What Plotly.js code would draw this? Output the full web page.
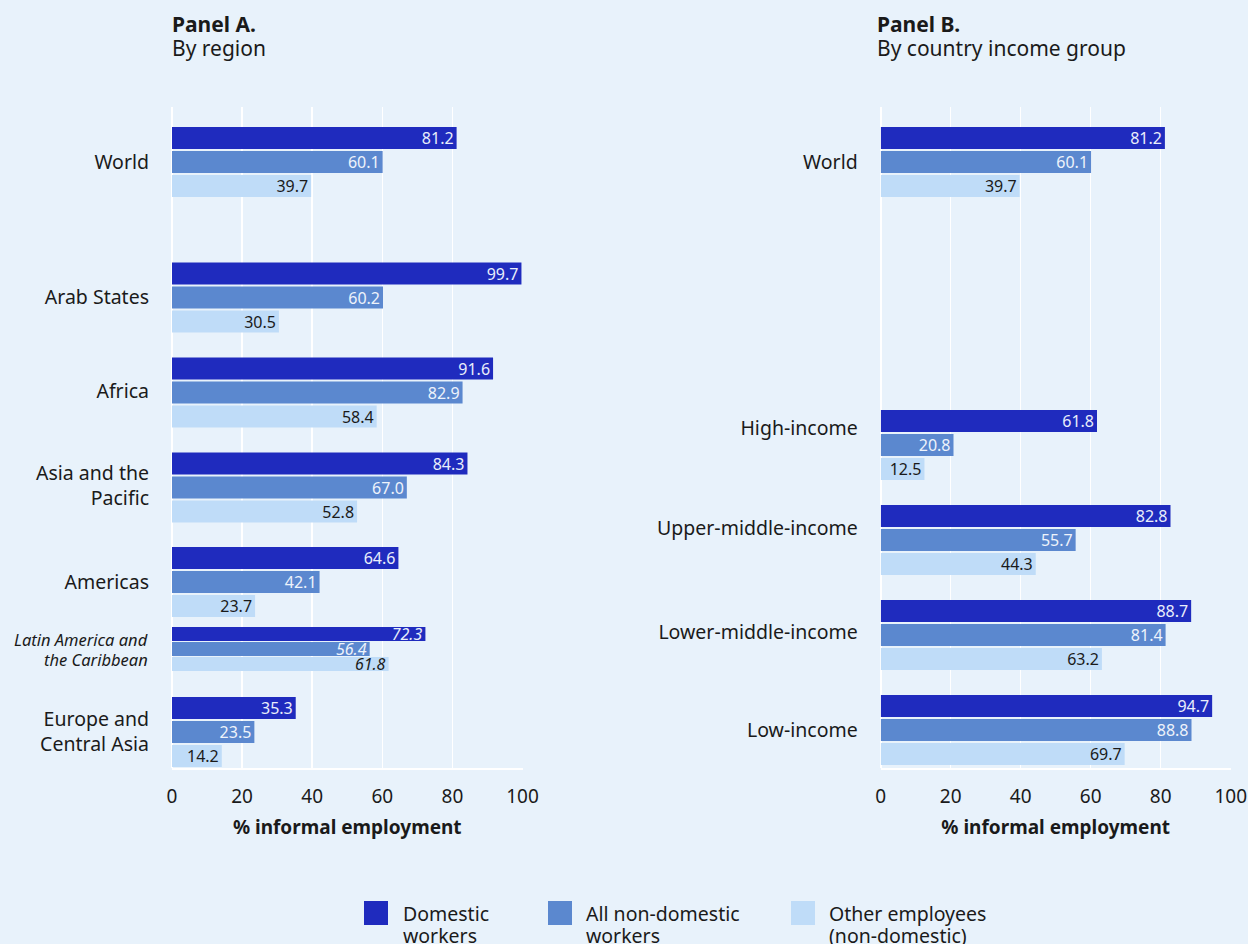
<!DOCTYPE html>
<html>
<head>
<meta charset="utf-8">
<script src="https://cdn.plot.ly/plotly-3.0.1.min.js"></script>
<style>html,body{margin:0;padding:0;background:#e8f2fb;}#chart{width:1248px;height:944px;}</style>
</head>
<body>
<div id="chart"></div>
<script>
// ---------- DATA ----------
const seriesNames = ['Domestic<br>workers', 'All non-domestic<br>workers', 'Other employees<br>(non-domestic)'];

const regionCategories = ['World', 'Arab States', 'Africa', 'Asia and the Pacific', 'Americas', 'Latin America and the Caribbean', 'Europe and Central Asia'];
const regionTickLabels = ['World', 'Arab States', 'Africa', 'Asia and the<br>Pacific', 'Americas', 'Latin America and<br>the Caribbean', 'Europe and<br>Central Asia'];
const regionDomestic = [81.2, 99.7, 91.6, 84.3, 64.6, 72.3, 35.3];
const regionNonDomestic = [60.1, 60.2, 82.9, 67.0, 42.1, 56.4, 23.5];
const regionOtherEmployees = [39.7, 30.5, 58.4, 52.8, 23.7, 61.8, 14.2];
const regionSubgroup = [false, false, false, false, false, true, false];

const incomeCategories = ['World', 'High-income', 'Upper-middle-income', 'Lower-middle-income', 'Low-income'];
const incomeTickLabels = ['World', 'High-income', 'Upper-middle-income', 'Lower-middle-income', 'Low-income'];
const incomeDomestic = [81.2, 61.8, 82.8, 88.7, 94.7];
const incomeNonDomestic = [60.1, 20.8, 55.7, 81.4, 88.8];
const incomeOtherEmployees = [39.7, 12.5, 44.3, 63.2, 69.7];
const incomeSubgroup = [false, false, false, false, false];

const xTicks = [0, 20, 40, 60, 80, 100];
const axisTitle = '% informal employment';
const panelTitles = [['Panel A.', 'By region'], ['Panel B.', 'By country income group']];

// ---------- LAYOUT HELPERS (positions / styles) ----------
const W = 1248, H = 944;
const FONT = 'Noto Sans, Open Sans, sans-serif';
const colors = ['#1f2bbe', '#5b88cf', '#bfdcf8'];
const textColors = ['#e9eefb', '#eef3fb', '#1a1a1a'];
const ink = '#1a1a1a';
const bg = '#e8f2fb';
const px = x => x / W;
const py = y => 1 - y / H;

// vertical placement of groups (in the y-axis' pixel-like units)
const plotTop = 107, plotBottom = 768;
const regionGroupPos = [162, 297.5, 392.5, 487.5, 582, 649, 732];
const regionLabelPos = [162, 297, 391, 485.5, 582, 649.5, 731.5];
const incomeGroupPos = [162, 445, 540, 635, 730];
const incomeLabelPos = [162, 428, 528, 632, 730];

function makeTraces(pos, seriesVals, sub, xa, ya) {
  return seriesVals.map((vals, k) => {
    const h = sub.map(s => s ? 14 : 22);
    const step = sub.map(s => s ? 15 : 24);
    return {
      type: 'bar', orientation: 'h',
      x: vals, y: pos,
      xaxis: xa, yaxis: ya,
      width: h,
      offset: h.map((hh, i) => (k - 1) * step[i] - hh / 2),
      marker: {color: colors[k], line: {width: 0}},
      name: seriesNames[k],
      showlegend: false,
      text: vals.map((v, i) => sub[i] ? '<i>' + v.toFixed(1) + '</i>' : v.toFixed(1)),
      textposition: 'inside',
      insidetextanchor: 'end',
      textangle: 0,
      constraintext: 'none',
      cliponaxis: false,
      textfont: {family: FONT, size: 16, color: textColors[k]},
      hoverinfo: 'skip'
    };
  });
}

const traces = [].concat(
  makeTraces(regionGroupPos, [regionDomestic, regionNonDomestic, regionOtherEmployees], regionSubgroup, 'x', 'y'),
  makeTraces(incomeGroupPos, [incomeDomestic, incomeNonDomestic, incomeOtherEmployees], incomeSubgroup, 'x2', 'y2')
);

function xAxis(domain, anchor) {
  return {
    domain: domain, anchor: anchor, range: [0, 100], fixedrange: true,
    tickvals: xTicks, ticktext: xTicks.map(String),
    showgrid: true, gridcolor: '#ffffff', gridwidth: 1.5,
    zeroline: true, zerolinecolor: '#ffffff', zerolinewidth: 2,
    showline: true, linecolor: '#ffffff', linewidth: 1.5, mirror: false,
    ticks: '', ticklabelstandoff: 11,
    tickfont: {family: FONT, size: 19, color: ink},
    title: {text: '<b>' + axisTitle + '</b>', font: {family: FONT, size: 19, color: ink}, standoff: 12},
    automargin: false
  };
}
function yAxis(labelPos, labels, sub, anchor) {
  return {
    domain: [py(plotBottom), py(plotTop)], anchor: anchor,
    range: [plotBottom, plotTop], fixedrange: true,
    tickvals: labelPos,
    ticktext: labels.map((t, i) => sub[i] ? '' : t),
    showgrid: false, zeroline: false, showline: false, ticks: '',
    ticklabelstandoff: 22,
    tickfont: {family: FONT, size: 19.5, color: ink},
    automargin: false
  };
}

const annotations = [];
const shapes = [];
// panel titles (one annotation per line for tight line spacing)
const titleX = [170, 875];
panelTitles.forEach((pt, p) => {
  annotations.push({text: '<b>' + pt[0] + '</b>', x: px(titleX[p]), y: py(24), xref: 'paper', yref: 'paper', xanchor: 'left', yanchor: 'middle', align: 'left', showarrow: false, font: {family: FONT, size: 21, color: ink}});
  annotations.push({text: pt[1], x: px(titleX[p]), y: py(48), xref: 'paper', yref: 'paper', xanchor: 'left', yanchor: 'middle', align: 'left', showarrow: false, font: {family: FONT, size: 21, color: ink}});
});
// sub-group (italic) category labels of panel A
regionTickLabels.forEach((t, i) => {
  if (!regionSubgroup[i]) return;
  const lines = t.split('<br>');
  lines.forEach((ln, j) => {
    annotations.push({text: '<i>' + ln + '</i>', x: px(150), y: py(regionLabelPos[i] + (j - (lines.length - 1) / 2) * 19.5), xref: 'paper', yref: 'paper', xanchor: 'right', yanchor: 'middle', align: 'right', showarrow: false, font: {family: FONT, size: 16.5, color: ink}});
  });
});
// legend (drawn manually to match the large swatches)
const legendX = [364, 548, 791];
const legendTextX = [401, 584, 827];
seriesNames.forEach((n, k) => {
  shapes.push({type: 'rect', xref: 'paper', yref: 'paper', x0: px(legendX[k]), x1: px(legendX[k] + 24), y0: py(925), y1: py(901), fillcolor: colors[k], line: {width: 0}});
  n.split('<br>').forEach((ln, j) => {
    annotations.push({text: ln, x: px(legendTextX[k]), y: py(913 + j * 22), xref: 'paper', yref: 'paper', xanchor: 'left', yanchor: 'middle', align: 'left', showarrow: false, font: {family: FONT, size: 19.5, color: ink}});
  });
});

const layout = {
  width: W, height: H,
  margin: {l: 0, r: 0, t: 0, b: 0},
  paper_bgcolor: bg, plot_bgcolor: bg,
  barmode: 'overlay',
  showlegend: false,
  xaxis: xAxis([px(172), px(522.5)], 'y'),
  yaxis: yAxis(regionLabelPos, regionTickLabels, regionSubgroup, 'x'),
  xaxis2: xAxis([px(880.7), px(1230.7)], 'y2'),
  yaxis2: yAxis(incomeLabelPos, incomeTickLabels, incomeSubgroup, 'x2'),
  annotations: annotations,
  shapes: shapes,
  font: {family: FONT}
};

Plotly.newPlot('chart', traces, layout, {displayModeBar: false, staticPlot: true});
</script>
</body>
</html>
